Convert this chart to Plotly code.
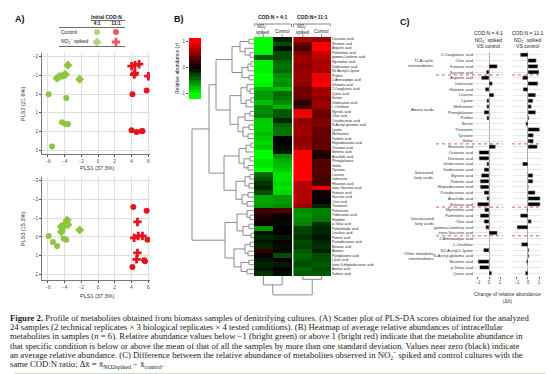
import plotly.graph_objects as go

W, H = 554, 374
def X(px): return px / W
def Y(py): return 1 - py / H

GREEN = '#8dc63f'
RED = '#e4151f'
FONT = 'Liberation Sans'

# ---------------- Panel A: PLS-DA scores ----------------
# PLS1 vs PLS2
s12_ctrl41_x = [-5.9, -3.8, -4.3, -3.9, -3.6, -5.5]
s12_ctrl41_y = [0.0, 0.2, 1.5, 1.6, 1.6, 2.8]
s12_spk41_x = [-3.6, -4.9, -4.6, -4.2, -3.9, -2.2]
s12_spk41_y = [-1.55, -0.85, -0.95, -1.0, -1.05, -0.8]
s12_ctrl111_x = [4.1, 5.8, 4.0, 4.6, 5.2, 5.3]
s12_ctrl111_y = [0.0, -0.2, 1.93, 2.03, 1.98, 1.97]
s12_spk111_x = [4.0, 4.4, 4.9, 4.4, 4.3, 6.0]
s12_spk111_y = [-1.5, -1.55, -1.6, -1.12, -1.05, -0.96]
# PLS1 vs PLS3
s13_ctrl41_x = [-5.9, -4.1, -3.8, -5.4, -4.9, -4.2]
s13_ctrl41_y = [-0.05, 0.1, 0.15, 0.27, 0.48, -0.45]
s13_spk41_x = [-3.7, -3.6, -4.0, -4.4, -4.4, -2.2]
s13_spk41_y = [-0.9, -0.65, -0.65, -0.55, -0.27, -0.37]
s13_ctrl111_x = [4.2, 5.8, 5.9, 5.5, 5.6, 4.1]
s13_ctrl111_y = [-1.6, -1.4, 0.15, 1.25, 1.3, 1.6]
s13_spk111_x = [4.7, 4.8, 5.3, 4.7, 4.6, 4.3]
s13_spk111_y = [-0.8, -0.05, -0.05, 0.85, 1.2, 0.05]

ratios = ['4:1', '11:1']
conditions = ['Control', 'NO<sub>2</sub><sup>−</sup> spiked']

# ---------------- Panel B: heatmap ----------------
heat_rows = ['Decanoic acid', 'Nicotinic acid', 'Aspartic acid', 'Palmitoleic acid', 'gamma-Linolenic acid',
             'Myristoleic acid', 'Dodecanoic acid', 'N2-Acetyl-L-lysine', 'Proline', '2-Aminoadipic acid',
             'Glutamic acid', '2-Oxoglutaric acid', 'Quinic acid', 'Serine', 'Undecanoic acid', 'L-Ornithine',
             'Myristic acid', 'Oleic acid', 'Octadecanoic acid', 'N-Acetyl-glutamic acid', 'Lysine', 'Methionine',
             'Palmitic acid', 'Heptadecanoic acid', 'Octanoic acid', 'Behenic acid', 'Arachidic acid',
             'Phenylalanine', 'Valine', 'Tyrosine', 'Leucine', 'Isoleucine', 'Hexanoic acid',
             'trans-Vaccenic acid', 'Fumaric acid', 'Succinic acid', 'Citric acid', 'Threonine', 'Putrescine',
             'Tridecanoic acid', 'Histidine', 'p-Toluic acid', 'Palmitelaidic acid', 'Levulinic acid',
             'Pimelic acid', 'Pentadecanoic acid', 'Benzoic acid', 'Alanine', 'Pyroglutamic acid', 'Lactic acid',
             'trans-9-Heptadecenoic acid', 'Azelaic acid', 'Suberic acid']
heat_41_spiked = [-1.0, -1.0, -1.0, -0.95, -0.35, -0.95, -0.95, -0.95, -1.0, -1.0, -0.95, -0.7, -0.6, -0.6,
                  -0.75, -0.55, -0.55, -0.5, -0.8, -0.8, -0.8, -0.75, -0.8, -0.85, -0.8, -1.0, -1.0, -0.9, -0.9,
                  -1.0, -0.4, -0.3, -0.2, -0.15, -0.3, -0.65, -0.65, -0.6, 0.25, 0.15, 0.1, 0.05, -0.6, -0.1,
                  -0.15, -0.1, -0.15, 0.2, 0.05, -0.1, -0.15, -0.1, -0.2]
heat_41_control = [-0.1, -0.3, -0.05, -0.3, -0.3, -0.4, -0.45, -0.4, -0.55, -0.6, -0.55, -0.75, -0.4, -0.45,
                   -0.55, -0.7, -0.35, -0.35, -0.15, -0.4, -0.45, -0.45, 0.0, 0.0, -0.05, -0.1, -0.6, -0.7,
                   -0.75, -0.8, -0.9, -0.9, -0.85, -0.9, -0.85, -0.6, -0.6, -0.55, 0.3, 0.05, 0.05, -0.05, 0.0,
                   0.0, -0.1, 0.05, -0.05, 0.05, -0.3, 0.05, -0.1, 0.0, -0.05]
heat_111_spiked = [0.65, 0.4, 0.3, 0.5, 0.6, 0.6, 0.55, 0.6, 0.6, 0.6, 0.55, 0.45, 0.45, 0.4, 0.2, 0.25, 0.9,
                   0.95, 0.55, 0.6, 0.6, 0.65, 0.55, 0.6, 0.6, 1.0, 1.0, 1.0, 1.0, 1.0, 1.0, 1.0, 0.7, 0.7, 0.7,
                   0.7, 0.7, 0.6, -0.55, -0.6, -0.55, -0.5, -0.25, -0.25, -0.2, -0.3, -0.25, -0.35, -0.4, -0.35,
                   -0.3, -0.4, -0.35]
heat_111_control = [0.6, 0.95, 1.0, 0.8, 0.75, 0.65, 0.7, 0.65, 0.95, 0.9, 1.0, 0.6, 0.65, 0.55, 0.6, 0.6, 0.45,
                    0.4, 0.5, 0.5, 0.4, 0.4, 0.4, 0.35, 0.4, 0.15, 0.1, 0.35, 0.3, 0.35, 0.3, 0.25, 0.3, 0.9,
                    0.05, 0.05, 0.0, -0.15, -0.5, -0.5, -0.45, -0.2, -0.15, -0.15, -0.1, -0.15, -0.2, -0.1, -0.3,
                    -0.3, -0.35, -0.3, -0.35]
heat_col_labels = ['NO<sub>2</sub><sup>−</sup><br>spiked', 'Control']
heat_groups = ['COD:N = 4:1', 'COD:N= 11:1']
colorbar_levels = [-1.2, -1.1, -1.0, -0.9, -0.8, -0.7, -0.6, -0.5, -0.4, -0.3, -0.2, -0.1, 0.0,
                   0.1, 0.2, 0.3, 0.4, 0.5, 0.6, 0.7, 0.8, 0.9, 1.0, 1.1, 1.2]

# dendrograms: [height, left, right]; leaves are row / column indices
row_tree = [62,
            [45,
             [38,
              [22, [14, [5, 0, 1], [9, 2, [4, 3, 4]]], [12, [6, [3, 5, 6], 7], [5, 8, 9]]],
              [24, [13, [7, 10, [4, 11, 12]], [8, [3, 13, 14], 15]],
               [16, [9, [4, 16, 17], 18], [11, [5, 19, 20], [6, 21, 22]]]]],
             [30,
              [15, [8, [3, 23, 24], 25], [10, [4, 26, 27], [6, 28, 29]]],
              [18, [9, [4, 30, 31], [5, 32, 33]], [12, [6, 34, 35], [7, 36, 37]]]]],
            [29,
             [17, [7, 38, [4, 39, 40]], [11, [5, 41, 42], [3, 43, 44]]],
             [20, [9, [4, 45, 46], [6, 47, 48]], [13, [5, 49, 50], [7, 51, 52]]]]]
col_tree = [17, [8, 0, 1], [3, 2, 3]]

# ---------------- Panel C: differences ----------------
c_groups = ['TCA cycle<br>intermediates', 'Amino acids', 'Saturated<br>fatty acids',
            'Unsaturated<br>fatty acids', 'Other metabolic<br>intermediates']
c_group_members = [
    ['2-Oxoglutaric acid', 'Citric acid', 'Fumaric acid', 'Succinic acid'],
    ['Aspartic acid', 'Isoleucine', 'Glutamic acid', 'Leucine', 'Lysine', 'Methionine', 'Phenylalanine',
     'Proline', 'Serine', 'Threonine', 'Tyrosine', 'Valine'],
    ['Hexanoic acid', 'Octanoic acid', 'Decanoic acid', 'Undecanoic acid', 'Dodecanoic acid', 'Myristic acid',
     'Palmitic acid', 'Heptadecanoic acid', 'Octadecanoic acid', 'Arachidic acid', 'Behenic acid'],
    ['Myristoleic acid', 'Palmitoleic acid', 'Oleic acid', 'gamma-Linolenic acid', 'trans-Vaccenic acid'],
    ['2-Aminoadipic acid', 'L-Ornithine', 'N2-Acetyl-L-lysine', 'N-Acetyl-glutamic acid', 'Nicotinic acid',
     'p-Toluic acid', 'Quinic acid'],
]
c_delta_41 = [0.0, 0.0, 0.75, -0.25,
              -0.7, 0.3, -0.35, 0.45, -0.2, -0.2, -0.45, -0.2, 0.0, 0.0, 0.0, 0.0,
              0.6, -0.9, -0.9, -0.2, -0.45, -0.7, -0.8, -0.8, -0.45, -0.2, -1.05,
              -0.4, -0.8, -0.45, -0.3, 0.75,
              0.0, 0.0, -0.5, 0.0, -1.0, -0.85, 0.25]
c_delta_111 = [-0.7, 0.75, 0.9, 1.0,
               -0.5, 0.9, -0.45, 0.7, 0.45, 0.3, 0.7, 0.1, -0.2, 1.05, 0.5, 0.5,
               0.85, -0.05, -0.05, -0.5, 0.0, 0.45, 0.45, 0.05, 0.65, 1.1, 1.1,
               -0.1, -0.7, 0.3, -1.0, -0.05,
               -0.02, -0.6, 0.1, 0.1, -0.15, 0.0, -0.25]
c_headers = ['COD:N = 4:1', 'COD:N = 11:1']

caption_lines = [
    "<b>Figure 2.</b> Profile of metabolites obtained from biomass samples of denitrifying cultures. (A) Scatter plot of PLS-DA scores obtained for the analyzed",
    "24 samples (2 technical replicates × 3 biological replicates × 4 tested conditions). (B) Heatmap of average relative abundances of intracellular",
    "metabolites in samples (<i>n</i> = 6). Relative abundance values below −1 (bright green) or above 1 (bright red) indicate that the metabolite abundance in",
    "that specific condition is below or above the mean of that of all the samples by more than one standard deviation. Values near zero (black) indicate",
    "an average relative abundance. (C) Difference between the relative abundance of metabolites observed in NO₂⁻ spiked and control cultures with the",
    "same COD:N ratio; Δx̄ = x̄<sub>NO2spiked</sub> − x̄<sub>control</sub>.",
]

fig = go.Figure()
annotations = []
shapes = []

def ann(text, x, y, size=5, xanchor='center', yanchor='middle', angle=0, color='#222', family=FONT,
        xref='paper', yref='paper', align='center'):
    annotations.append(dict(text=text, x=x, y=y, xref=xref, yref=yref, showarrow=False,
                            xanchor=xanchor, yanchor=yanchor, textangle=angle, align=align, borderpad=0,
                            font=dict(size=size, color=color, family=family)))

# ---- Panel A traces
marker_styles = [
    (GREEN, 'circle', 6), (GREEN, 'diamond', 7), (RED, 'circle', 6), (RED, 'cross', 7)
]
sets12 = [(s12_ctrl41_x, s12_ctrl41_y), (s12_spk41_x, s12_spk41_y),
          (s12_ctrl111_x, s12_ctrl111_y), (s12_spk111_x, s12_spk111_y)]
sets13 = [(s13_ctrl41_x, s13_ctrl41_y), (s13_spk41_x, s13_spk41_y),
          (s13_ctrl111_x, s13_ctrl111_y), (s13_spk111_x, s13_spk111_y)]
for (xs, ys), (c, sym, sz) in zip(sets12, marker_styles):
    fig.add_trace(go.Scatter(x=xs, y=ys, mode='markers', xaxis='x', yaxis='y', showlegend=False,
                             marker=dict(color=c, symbol=sym, size=sz, line=dict(width=0))))
for (xs, ys), (c, sym, sz) in zip(sets13, marker_styles):
    fig.add_trace(go.Scatter(x=xs, y=ys, mode='markers', xaxis='x2', yaxis='y2', showlegend=False,
                             marker=dict(color=c, symbol=sym, size=sz, line=dict(width=0))))

# legend table (hidden axis x8/y8)
tx, ty, tc, ts, tz = [], [], [], [], []
for ri, r in enumerate(ratios):
    for ci, cnd in enumerate(conditions):
        col, sym, sz = marker_styles[ri * 2 + ci]
        tx.append(ri); ty.append(ci); tc.append(col); ts.append(sym); tz.append(sz)
fig.add_trace(go.Scatter(x=tx, y=ty, mode='markers', xaxis='x8', yaxis='y8', showlegend=False,
                         marker=dict(color=tc, symbol=ts, size=tz, line=dict(width=0))))
for ci, cnd in enumerate(conditions):
    ann(cnd, X(52), ci, size=5, xanchor='left', yref='y8')
ann('<b>Initial COD:N</b>', X(98.5), Y(9.5), size=5)
shapes += [
    dict(type='line', xref='paper', yref='paper', x0=X(83), x1=X(117), y0=Y(12.5), y1=Y(12.5),
         line=dict(color='#444', width=0.8)),
    dict(type='line', xref='paper', yref='paper', x0=X(51), x1=X(117), y0=Y(19.5), y1=Y(19.5),
         line=dict(color='#444', width=0.8)),
    dict(type='line', xref='paper', yref='paper', x0=X(51), x1=X(117), y0=Y(38.5), y1=Y(38.5),
         line=dict(color='#444', width=0.8)),
]

# ---- Panel B: heatmap
edges_41 = [0, 1, 2]
edges_111 = [2.1, 3.1, 4.1]
row_idx = list(range(len(heat_rows)))
cscale = [[0, '#00ff00'], [0.5, '#000000'], [1, '#ff0000']]
z41 = [[a, b] for a, b in zip(heat_41_spiked, heat_41_control)]
z111 = [[a, b] for a, b in zip(heat_111_spiked, heat_111_control)]
fig.add_trace(go.Heatmap(z=z41, x=edges_41, y=row_idx, colorscale=cscale, zmin=-1, zmax=1,
                         showscale=False, xaxis='x3', yaxis='y3'))
fig.add_trace(go.Heatmap(z=z111, x=edges_111, y=row_idx, colorscale=cscale, zmin=-1, zmax=1,
                         showscale=False, xaxis='x3', yaxis='y3'))
col_centers = [(edges_41[i] + edges_41[i + 1]) / 2 for i in range(2)] + \
              [(edges_111[i] + edges_111[i + 1]) / 2 for i in range(2)]

def dendro(node, leafpos, hs, ps):
    if isinstance(node, int):
        return leafpos[node], 0.0
    h, a, b = node
    pa, ha = dendro(a, leafpos, hs, ps)
    pb, hb = dendro(b, leafpos, hs, ps)
    hs += [ha, h, h, hb, None]
    ps += [pa, pa, pb, pb, None]
    return (pa + pb) / 2, h

rh, rp = [], []
dendro(row_tree, row_idx, rh, rp)
fig.add_trace(go.Scatter(x=rh, y=rp, mode='lines', xaxis='x4', yaxis='y3', showlegend=False,
                         line=dict(color='#808080', width=0.9)))
ch, cp = [], []
dendro(col_tree, col_centers, ch, cp)
fig.add_trace(go.Scatter(x=cp, y=ch, mode='lines', xaxis='x3', yaxis='y4', showlegend=False,
                         line=dict(color='#808080', width=0.9)))

# colour key
fig.add_trace(go.Heatmap(z=[[v] for v in colorbar_levels], x=[0], y=colorbar_levels, colorscale=cscale,
                         zmin=-1, zmax=1, showscale=False, xaxis='x5', yaxis='y5'))
ann('Relative abundance (z)', X(169), Y(60), size=5, angle=-90)

# heatmap headers
for gi, (g, edges) in enumerate(zip(heat_groups, [edges_41, edges_111])):
    mid = (edges[0] + edges[-1]) / 2
    ann('<b>' + g + '</b>', mid, Y(9), size=5, xref='x3')
    shapes.append(dict(type='path', xref='x3', yref='paper',
                       path=f'M {edges[0]},{Y(19)} L {edges[0]},{Y(16)} L {edges[-1]},{Y(16)} L {edges[-1]},{Y(19)}',
                       line=dict(color='#555', width=0.7)))
    for k in range(2):
        cx = (edges[k] + edges[k + 1]) / 2
        ann(heat_col_labels[k], cx, Y(23) if k == 1 else Y(20.5), size=4.5, xref='x3')
        shapes.append(dict(type='line', xref='x3', yref='paper', x0=cx, x1=cx, y0=Y(26), y1=Y(29),
                           line=dict(color='#555', width=0.7)))

# ---- Panel C
c_names = [n for grp in c_group_members for n in grp]
c_idx = list(range(len(c_names)))
fig.add_trace(go.Bar(x=c_delta_41, y=c_idx, orientation='h', xaxis='x6', yaxis='y6', width=0.68,
                     marker=dict(color='#000'), showlegend=False))
fig.add_trace(go.Bar(x=c_delta_111, y=c_idx, orientation='h', xaxis='x7', yaxis='y6', width=0.68,
                     marker=dict(color='#000'), showlegend=False))
start = 0
for gi, grp in enumerate(c_group_members):
    end = start + len(grp)
    ann(c_groups[gi], X(427), (start + end - 1) / 2, size=4.2, xanchor='right', yref='y6', align='right',
        color='#333')
    if gi < len(c_group_members) - 1:
        for x0, x1 in [(428, 495), (504, 532)]:
            shapes.append(dict(type='line', xref='paper', yref='y6', x0=X(x0), x1=X(x1),
                               y0=end - 0.5, y1=end - 0.5,
                               line=dict(color='#e03030', width=0.8, dash='dot')))
    start = end
for hx, h in zip([480.5, 519], c_headers):
    ann(h + '<br>NO<sub>2</sub><sup>−</sup> spiked<br>VS control', X(hx), Y(31.5), size=5)
ann('Change of relative abundance<br>(Δx̄)', X(500), Y(289), size=5, color='#333')

# panel letters and axis titles
ann('<b>A)</b>', X(6), Y(11), size=9, xanchor='left', color='#111')
ann('<b>B)</b>', X(165), Y(11), size=9, xanchor='left', color='#111')
ann('<b>C)</b>', X(391), Y(14), size=9, xanchor='left', color='#111')
ann('PLS2 (21.6%)', X(15), Y(96), size=5.5, angle=-90, color='#333')
ann('PLS3 (15.3%)', X(15), Y(221), size=5.5, angle=-90, color='#333')
ann('PLS1 (37.3%)', X(89), Y(160), size=5.5, color='#333')
ann('PLS1 (37.3%)', X(89), Y(288), size=5.5, color='#333')

# caption
for i, line in enumerate(caption_lines):
    ann(line, X(1), Y(310 + i * 9.2), size=8.7, xanchor='left', family='Liberation Serif', color='#1a1a1a')
shapes.append(dict(type='line', xref='paper', yref='paper', x0=X(6), x1=X(548), y0=Y(366), y1=Y(366),
                   line=dict(color='#9fb59f', width=1)))

tickf = dict(size=4.5, color='#444', family=FONT)
scat_x = dict(range=[-6.7, 6.2], tickvals=[-6, -4, -2, 0, 2, 4, 6], showgrid=True, gridcolor='#dedede',
              gridwidth=0.6, zeroline=False, showline=True, linecolor='#777', linewidth=1.3,
              ticks='outside', ticklen=2, tickwidth=0.6, tickcolor='#555', tickfont=tickf)
scat_y = dict(showgrid=True, gridcolor='#dedede', gridwidth=0.6, zeroline=False, showline=True,
              linecolor='#777', linewidth=1.3, ticks='outside', ticklen=2, tickwidth=0.6, tickcolor='#555',
              tickfont=tickf)
hidden = dict(visible=False, showgrid=False, zeroline=False)
c_x = dict(tickvals=[-1, 0, 1], showgrid=False, zeroline=True, zerolinecolor='#9a9a9a', zerolinewidth=0.8,
           showline=False, ticks='outside', ticklen=2, tickwidth=0.6, tickcolor='#666', tickfont=tickf)

fig.update_layout(
    width=W, height=H, margin=dict(l=0, r=0, t=0, b=0), paper_bgcolor='white', plot_bgcolor='white',
    font=dict(family=FONT, color='#222'), showlegend=False, bargap=0.3,
    xaxis=dict(domain=[X(34), X(142)], anchor='y', **scat_x),
    yaxis=dict(domain=[Y(146), Y(45)], anchor='x', range=[3.2, -2.2], tickvals=[-2, -1, 0, 1, 2, 3], **scat_y),
    xaxis2=dict(domain=[X(34), X(142)], anchor='y2', **scat_x),
    yaxis2=dict(domain=[Y(272), Y(169)], anchor='x2', range=[2.3, -3.2], tickvals=[-3, -2, -1, 0, 1, 2],
                **scat_y),
    xaxis3=dict(domain=[X(246), X(323)], anchor='y3', range=[0, 4.1], **hidden),
    yaxis3=dict(domain=[Y(268), Y(29)], anchor='x3', range=[len(heat_rows) - 0.5, -0.5], side='right',
                tickvals=row_idx, ticktext=heat_rows, tickfont=dict(size=3.4, color='#222', family=FONT),
                ticks='', showgrid=False, zeroline=False, showline=False),
    xaxis4=dict(domain=[X(183), X(246)], anchor='y3', range=[63, 0], **hidden),
    yaxis4=dict(domain=[Y(288), Y(268)], anchor='x3', range=[18, 0], **hidden),
    xaxis5=dict(domain=[X(181), X(193)], anchor='y5', range=[-0.5, 0.5], **hidden),
    yaxis5=dict(domain=[Y(91), Y(30)], anchor='x5', range=[-1.2, 1.15], tickvals=[-1, 0, 1],
                ticks='outside', ticklen=2, tickwidth=0.6, tickcolor='#444', tickfont=tickf,
                showgrid=False, zeroline=False, showline=False),
    xaxis6=dict(domain=[X(466), X(495)], anchor='y6', range=[-1.36, 1.27], **c_x),
    yaxis6=dict(domain=[Y(268), Y(44)], anchor='x6', range=[len(c_names) - 0.5, -0.5], tickvals=c_idx,
                ticktext=c_names, tickfont=dict(size=4, color='#333', family=FONT), ticks='',
                showgrid=True, gridcolor='#e6e6e6', gridwidth=0.6, zeroline=False, showline=False),
    xaxis7=dict(domain=[X(505), X(533)], anchor='y6', range=[-1.36, 1.18], **c_x),
    xaxis8=dict(domain=[X(79.5), X(117.5)], anchor='y8', range=[-0.5, 1.5], side='top', tickvals=[0, 1],
                ticktext=['<b>' + r + '</b>' for r in ratios], tickfont=dict(size=5, color='#222'),
                ticks='', showgrid=False, zeroline=False, showline=False),
    yaxis8=dict(domain=[Y(39), Y(19)], anchor='x8', range=[1.5, -0.5], **hidden),
    annotations=annotations, shapes=shapes,
)

fig.write_html('out.html')
